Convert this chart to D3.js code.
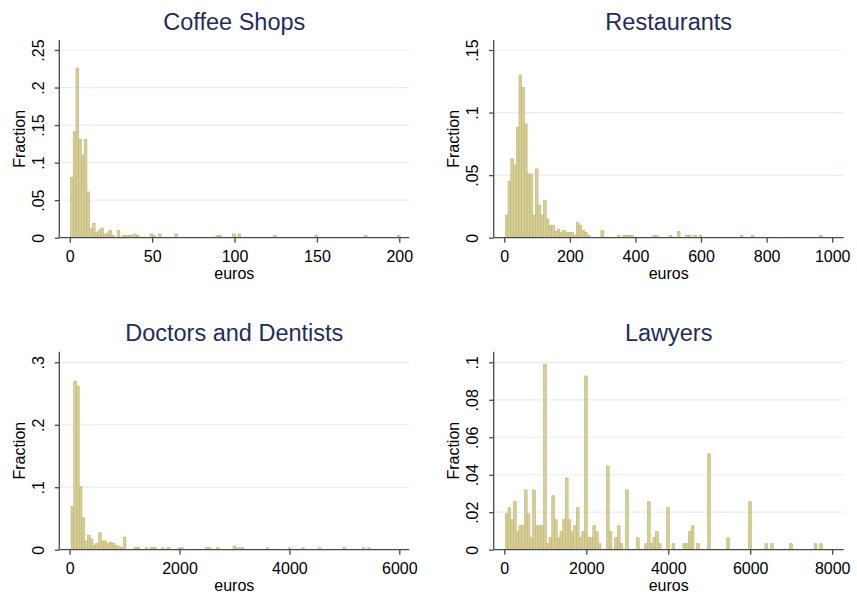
<!DOCTYPE html>
<html><head><meta charset="utf-8">
<script src="https://cdn.jsdelivr.net/npm/d3@7/dist/d3.min.js"></script>
<style>body{margin:0;background:#fff}svg{display:block}</style>
</head><body><svg id="chart" width="857" height="599"></svg>
<script>
// ---------- data ----------
const panelTitles = ["Coffee Shops", "Restaurants", "Doctors and Dentists", "Lawyers"];
const xAxisTitle = "euros";
const yAxisTitle = "Fraction";

const coffeeXTicks = [0, 50, 100, 150, 200];
const coffeeYTicks = [0, 0.05, 0.1, 0.15, 0.2, 0.25];
const coffeeYLabels = ["0", ".05", ".1", ".15", ".2", ".25"];
const coffeeBinStart = 0.4, coffeeBinWidth = 1.667;
const coffeeBin = [0,1,2,3,4,5,6,7,8,9,10,11,12,13,14,15,17,19,20,21,22,23,24,29,30,32,38,53,54,59,61,74,89,107,119];
const coffeeFraction = [.080,.141,.226,.131,.110,.131,.061,.012,.019,.007,.010,.013,.004,.006,.010,.003,
  .010,.003,.003,.003,.003,.005,.003,.005,.003,.005,.005,.003,.003,.005,.005,.003,.003,.003,.003];

const restXTicks = [0, 200, 400, 600, 800, 1000];
const restYTicks = [0, 0.05, 0.1, 0.15];
const restYLabels = ["0", ".05", ".1", ".15"];
const restBinStart = 3, restBinWidth = 8.33;
const restBin = [0,1,2,3,4,5,6,7,8,9,10,11,12,13,14,15,16,17,18,19,20,21,22,23,24,25,26,27,28,29,30,
  35,41,43,44,45,46,54,55,60,63,66,67,69,71,86,90,115];
const restFraction = [.018,.045,.063,.058,.088,.130,.120,.091,.051,.051,.018,.055,.026,.018,.030,.015,
  .010,.010,.005,.007,.004,.006,.004,.004,.004,.002,.012,.010,.006,.004,.002,
  .006,.002,.002,.002,.002,.002,.002,.002,.002,.005,.002,.002,.002,.002,.002,.002,.002];

const docXTicks = [0, 2000, 4000, 6000];
const docYTicks = [0, 0.1, 0.2, 0.3];
const docYLabels = ["0", ".1", ".2", ".3"];
const docBinStart = 25, docBinWidth = 50;
const docBin = [0,1,2,3,4,5,6,7,8,9,10,11,12,13,14,15,16,17,18,19,
  23,24,27,29,30,33,35,39,40,49,50,53,59,60,61,62,71,79,84,90,99,106,108];
const docFraction = [.069,.270,.262,.101,.051,.014,.023,.017,.007,.010,.027,.014,.014,.010,.012,.010,.007,.005,.003,.020,
  .004,.004,.003,.004,.004,.003,.004,.003,.003,.004,.003,.003,.006,.003,.003,.003,.003,.003,.003,.003,.004,.003,.003];

const lawXTicks = [0, 2000, 4000, 6000, 8000];
const lawYTicks = [0, 0.02, 0.04, 0.06, 0.08, 0.1];
const lawYLabels = ["0", ".02", ".04", ".06", ".08", ".1"];
const lawBinStart = 24, lawBinWidth = 66.7;
const lawBin = [0,1,2,3,4,5,6,7,8,9,10,11,12,13,14,15,16,17,18,19,20,21,22,23,24,25,26,27,28,29,30,31,32,33,34,
  37,38,40,41,42,44,48,51,52,53,54,55,56,59,61,65,66,67,68,70,74,81,89,95,97,104,113,115];
const lawFraction = [.0192,.0224,.0160,.0256,.0096,.0128,.0128,.0319,.0192,.0064,
  .0319,.0128,.0128,.0128,.0990,.0032,.0064,.0288,.0160,.0064,
  .0096,.0160,.0383,.0160,.0096,.0128,.0224,.0064,.0096,.0927,
  .0064,.0064,.0128,.0096,.0032,.0447,.0096,.0064,.0128,.0032,.0319,
  .0064,.0032,.0256,.0032,.0064,.0096,.0032,.0224,.0032,
  .0032,.0032,.0096,.0128,.0032,.0511,.0064,.0256,.0032,.0032,.0032,.0032,.0032];

// ---------- layout ----------
const FONT = "'Liberation Sans', Arial, Helvetica, sans-serif";
const BAR_FILL = "#d7cf94", BAR_STROKE = "#bdb377";
const GRID = "#e4edf1", AXIS = "#4a4a4a", TITLE_COL = "#1f2d5b";

const panels = [
  {title: panelTitles[0], xt: coffeeXTicks, yt: coffeeYTicks, yl: coffeeYLabels, start: coffeeBinStart, w: coffeeBinWidth, bins: coffeeBin, vals: coffeeFraction,
   L: 59.3, R: 409.3, T: 40, B: 237.7, x0: 69.8, x1: 399.3, y1: 50},
  {title: panelTitles[1], xt: restXTicks, yt: restYTicks, yl: restYLabels, start: restBinStart, w: restBinWidth, bins: restBin, vals: restFraction,
   L: 493.7, R: 843.7, T: 40, B: 237.7, x0: 504.3, x1: 832.2, y1: 50},
  {title: panelTitles[2], xt: docXTicks, yt: docYTicks, yl: docYLabels, start: docBinStart, w: docBinWidth, bins: docBin, vals: docFraction,
   L: 59.3, R: 409.3, T: 351.7, B: 549.7, x0: 69.6, x1: 399.3, y1: 362.3},
  {title: panelTitles[3], xt: lawXTicks, yt: lawYTicks, yl: lawYLabels, start: lawBinStart, w: lawBinWidth, bins: lawBin, vals: lawFraction,
   L: 493.7, R: 843.7, T: 351.7, B: 549.7, x0: 504.3, x1: 832.2, y1: 362.3}
];

const svg = d3.select("#chart");
svg.append("rect").attr("width", 857).attr("height", 599).attr("fill", "#fff");

panels.forEach(p => {
  const g = svg.append("g");
  const xMax = p.xt[p.xt.length - 1], yMax = p.yt[p.yt.length - 1];
  const x = d3.scaleLinear().domain([0, xMax]).range([p.x0, p.x1]);
  const y = d3.scaleLinear().domain([0, yMax]).range([p.B, p.y1]);

  // grid lines
  g.selectAll("line.grid").data(p.yt.filter(v => v > 0)).enter().append("line")
    .attr("x1", p.L).attr("x2", p.R)
    .attr("y1", d => y(d)).attr("y2", d => y(d))
    .attr("stroke", GRID).attr("stroke-width", 1.2);

  // bars
  const data = p.bins.map((b, i) => ({x0: p.start + b * p.w, x1: p.start + (b + 1) * p.w, v: p.vals[i]}));
  g.selectAll("rect.bar").data(data).enter().append("rect")
    .attr("x", d => x(d.x0)).attr("width", d => x(d.x1) - x(d.x0))
    .attr("y", d => y(d.v)).attr("height", d => y(0) - y(d.v))
    .attr("fill", BAR_FILL).attr("stroke", BAR_STROKE).attr("stroke-width", 0.6);

  // x axis
  const xAxis = d3.axisBottom(x).tickValues(p.xt).tickSize(5).tickPadding(6).tickSizeOuter(0)
    .tickFormat(d3.format("d"));
  const gx = g.append("g").attr("transform", `translate(0,${p.B})`).call(xAxis);
  gx.select(".domain").remove();
  gx.append("line").attr("x1", p.L).attr("x2", p.R).attr("y1", 0).attr("y2", 0)
    .attr("stroke", AXIS).attr("stroke-width", 1.3);
  gx.selectAll(".tick line").attr("stroke", AXIS).attr("stroke-width", 1.3);
  gx.selectAll(".tick text").attr("font-family", FONT).attr("font-size", 16).attr("fill", "#000")
    .attr("dy", null).attr("y", 24).attr("dominant-baseline", "alphabetic");

  // y axis
  const yAxis = d3.axisLeft(y).tickValues(p.yt).tickSize(4.5).tickSizeOuter(0)
    .tickFormat((d, i) => p.yl[i]);
  const gy = g.append("g").attr("transform", `translate(${p.L},0)`).call(yAxis);
  gy.select(".domain").remove();
  gy.append("line").attr("x1", 0).attr("x2", 0).attr("y1", p.T).attr("y2", p.B)
    .attr("stroke", AXIS).attr("stroke-width", 1.3);
  gy.selectAll(".tick line").attr("stroke", AXIS).attr("stroke-width", 1.3);
  gy.selectAll(".tick text").attr("font-family", FONT).attr("font-size", 16).attr("fill", "#000")
    .attr("x", null).attr("dy", null)
    .attr("text-anchor", "middle")
    .attr("transform", "translate(-15.5,0) rotate(-90)");

  // axis titles
  g.append("text").attr("x", (p.L + p.R) / 2).attr("y", p.B + 41)
    .attr("text-anchor", "middle").attr("font-family", FONT).attr("font-size", 16).attr("fill", "#000")
    .text(xAxisTitle);
  g.append("text").attr("transform", `translate(${p.L - 34.5},${(p.T + p.B) / 2}) rotate(-90)`)
    .attr("text-anchor", "middle").attr("font-family", FONT).attr("font-size", 16).attr("fill", "#000")
    .text(yAxisTitle);

  // panel title
  g.append("text").attr("x", (p.L + p.R) / 2).attr("y", p.T - 10.5)
    .attr("text-anchor", "middle").attr("font-family", FONT).attr("font-size", 23.5).attr("fill", TITLE_COL)
    .text(p.title);
});
</script></body></html>
